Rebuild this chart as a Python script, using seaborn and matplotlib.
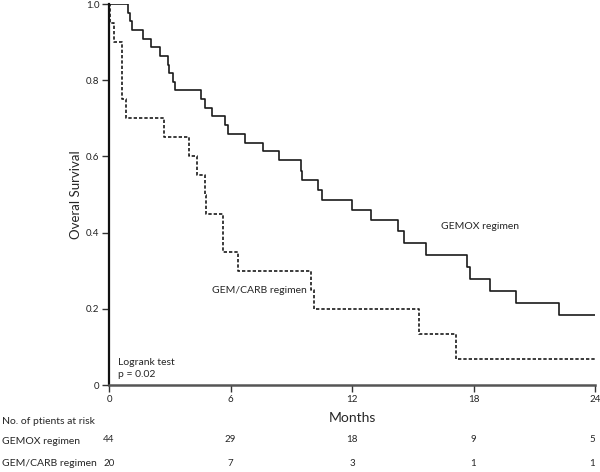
import numpy as np
import pandas as pd
import matplotlib
matplotlib.use("Agg")
import matplotlib.pyplot as plt
import matplotlib.transforms as mtransforms
import seaborn as sns

# Kaplan-Meier steps (months, survival after the drop)
gemox_t = [0, 0.92, 1.04, 1.12, 1.66, 2.07, 2.53, 2.90, 2.98, 3.16, 3.26, 4.54, 4.74,
           5.10, 5.74, 5.86, 6.70, 7.60, 8.40, 9.47, 9.55, 10.34, 10.54, 11.99, 12.94,
           14.29, 14.57, 15.64, 17.70, 17.83, 18.83, 20.08, 22.24, 24]
gemox_s = [1.0, 0.977, 0.955, 0.932, 0.909, 0.886, 0.864, 0.841, 0.818, 0.795, 0.773,
           0.750, 0.727, 0.705, 0.682, 0.659, 0.636, 0.614, 0.591, 0.563, 0.539, 0.512,
           0.486, 0.460, 0.434, 0.403, 0.373, 0.341, 0.309, 0.278, 0.247, 0.215, 0.184, 0.184]
carb_t = [0, 0.05, 0.26, 0.62, 0.66, 0.82, 2.73, 3.97, 4.36, 4.74, 4.79, 5.61, 6.37,
          9.98, 10.14, 15.31, 17.12, 24]
carb_s = [1.0, 0.95, 0.90, 0.80, 0.75, 0.70, 0.65, 0.60, 0.55, 0.50, 0.45, 0.35, 0.30,
          0.25, 0.20, 0.133, 0.067, 0.067]

risk_months = [0, 6, 12, 18, 24]
gemox_risk = [44, 29, 18, 9, 5]
carb_risk = [20, 7, 3, 1, 1]

df = pd.concat([
    pd.DataFrame({"month": gemox_t, "surv": gemox_s, "arm": "GEMOX"}),
    pd.DataFrame({"month": carb_t, "surv": carb_s, "arm": "GEM/CARB"}),
])

sns.set_style("ticks")
plt.rcParams["font.family"] = ["Lato", "DejaVu Sans"]

fig = plt.figure(figsize=(6, 4.72), dpi=100)
ax = fig.add_axes([0.1817, 0.1843, 0.81, 0.8072])

sns.lineplot(data=df, x="month", y="surv", hue="arm", style="arm",
             palette={"GEMOX": "#1a1a1a", "GEM/CARB": "#1a1a1a"},
             dashes={"GEMOX": "", "GEM/CARB": (2, 1.2)},
             drawstyle="steps-post", estimator=None, sort=False,
             linewidth=1.2, legend=False, ax=ax)

ax.set_xlim(0, 24)
ax.set_ylim(0, 1)
ax.set_xticks(risk_months)
ax.set_yticks([0, 0.2, 0.4, 0.6, 0.8, 1.0])
ax.set_yticklabels(["0", "0.2", "0.4", "0.6", "0.8", "1.0"])
ax.tick_params(labelsize=7, length=5, width=1, color="#333333", labelcolor="#222222", pad=2)
for side in ["top", "right"]:
    ax.spines[side].set_visible(False)
ax.spines["left"].set_linewidth(1.6)
ax.spines["left"].set_color("#111111")
ax.spines["bottom"].set_linewidth(1.8)
ax.spines["bottom"].set_color("#555555")

ax.set_xlabel("Months", fontsize=10, labelpad=6)
ax.set_ylabel("Overal Survival", fontsize=9.5, labelpad=3)

txt = dict(fontsize=7.5, va="center")
ax.text(16.4, 0.416, "GEMOX regimen", **txt)
ax.text(5.07, 0.247, "GEM/CARB regimen", **txt)
ax.text(0.43, 0.059, "Logrank test", **txt)
ax.text(0.43, 0.028, "p = 0.02", **txt)

# number at risk table
fig.text(2 / 600, 1 - 421 / 472, "No. of ptients at risk", **txt)
fig.text(2 / 600, 1 - 442 / 472, "GEMOX regimen", **txt)
fig.text(2 / 600, 1 - 464 / 472, "GEM/CARB regimen", **txt)
tr = mtransforms.blended_transform_factory(ax.transData, fig.transFigure)
for m, a, b in zip(risk_months, gemox_risk, carb_risk):
    ha = "right" if m == 24 else "center"
    ax.text(m, 1 - 440 / 472, str(a), transform=tr, fontsize=7, ha=ha, va="center")
    ax.text(m, 1 - 463 / 472, str(b), transform=tr, fontsize=7, ha=ha, va="center")

fig.savefig("out.png", dpi=100)
